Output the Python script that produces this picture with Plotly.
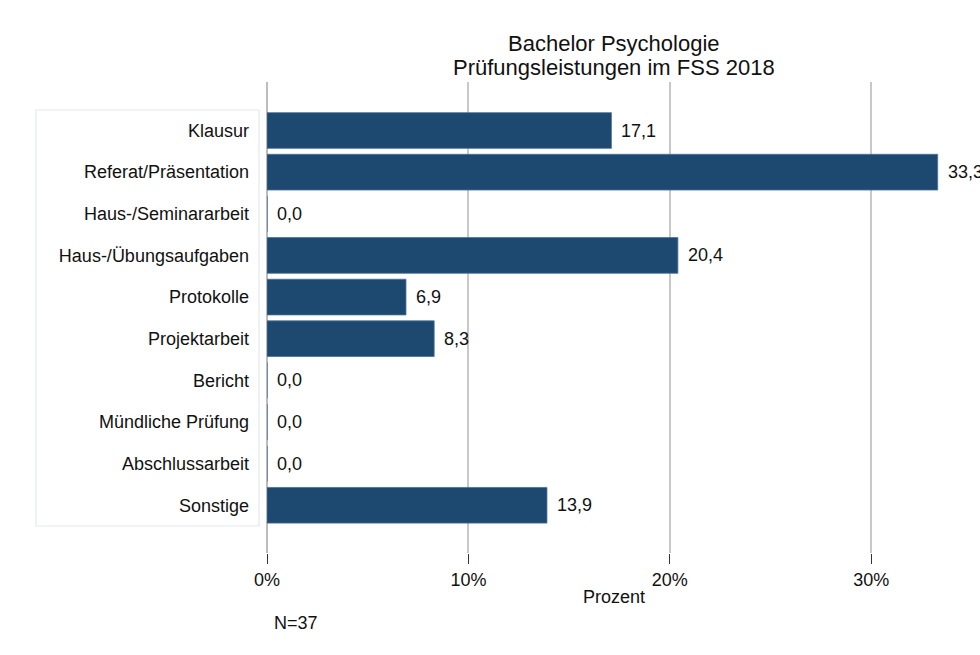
import plotly.graph_objects as go

categories = ["Klausur", "Referat/Präsentation", "Haus-/Seminararbeit", "Haus-/Übungsaufgaben",
              "Protokolle", "Projektarbeit", "Bericht", "Mündliche Prüfung", "Abschlussarbeit", "Sonstige"]
values = [17.1, 33.3, 0.0, 20.4, 6.9, 8.3, 0.0, 0.0, 0.0, 13.9]
x_ticks = [0, 10, 20, 30]
x_tick_labels = ["0%", "10%", "20%", "30%"]
title_lines = ["Bachelor Psychologie", "Prüfungsleistungen im FSS 2018"]
x_title = "Prozent"
note = "N=37"

FONT = "Liberation Sans, Arial, sans-serif"
BAR = "#1d4870"
idx = list(range(len(categories)))

W, H = 980, 655

fig = go.Figure()
fig.add_trace(go.Bar(
    x=values, y=idx, orientation="h",
    marker=dict(color=BAR, line=dict(color="#46709a", width=0.8)),
    hoverinfo="skip", showlegend=False,
))

annotations = []
for i, v in zip(idx, values):
    annotations.append(dict(
        x=v, y=i, xref="x", yref="y", text=f"{v:.1f}".replace(".", ","),
        showarrow=False, xanchor="left", yanchor="middle", xshift=8,
        font=dict(family=FONT, size=18, color="#111111"),
    ))
# two-line title with the tight line spacing of the reference
for line, ypos in zip(title_lines, [1.0807, 1.0318]):
    annotations.append(dict(
        x=0.487, y=ypos, xref="paper", yref="paper", text=line, showarrow=False,
        xanchor="center", yanchor="middle", font=dict(family=FONT, size=22, color="#111111"),
    ))
annotations.append(dict(
    x=0.487, y=-0.0934, xref="paper", yref="paper", text=x_title, showarrow=False,
    xanchor="center", yanchor="middle", font=dict(family=FONT, size=18, color="#111111"),
))
annotations.append(dict(
    x=0.007, y=-0.1486, xref="paper", yref="paper", text=note, showarrow=False,
    xanchor="left", yanchor="middle", font=dict(family=FONT, size=18, color="#111111"),
))

fig.update_layout(
    width=W, height=H,
    margin=dict(l=267, r=0, t=82, b=102),
    paper_bgcolor="white", plot_bgcolor="white",
    bargap=0.143,
    font=dict(family=FONT, size=18, color="#111111"),
    annotations=annotations,
    shapes=[dict(type="rect", xref="paper", yref="paper", x0=-0.324, x1=-0.0112,
                 y0=0.0573, y1=0.9406, line=dict(color="#e2e9ee", width=1.2),
                 fillcolor="rgba(0,0,0,0)", layer="below")],
)
fig.update_xaxes(
    range=[0, 35.4], tickvals=x_ticks, ticktext=x_tick_labels,
    showgrid=True, gridcolor="#c8c8c8", gridwidth=2,
    zeroline=True, zerolinecolor="#bdbdbd", zerolinewidth=2,
    ticks="outside", ticklen=10, tickcolor="#333333", tickwidth=1,
    showline=False, tickfont=dict(family=FONT, size=18, color="#111111"),
    fixedrange=True,
)
fig.update_yaxes(
    range=[10.146, -1.165], tickvals=idx, ticktext=categories,
    showgrid=False, zeroline=False, showline=False, ticks="",
    ticklabelstandoff=17, tickfont=dict(family=FONT, size=18, color="#111111"),
    fixedrange=True,
)

# remove the default 8px page margin so the figure fills the window exactly
fig.write_html("out.html",
               config={"displayModeBar": False, "staticPlot": True},
               post_script="document.body.style.margin='0';document.body.style.overflow='hidden';")
